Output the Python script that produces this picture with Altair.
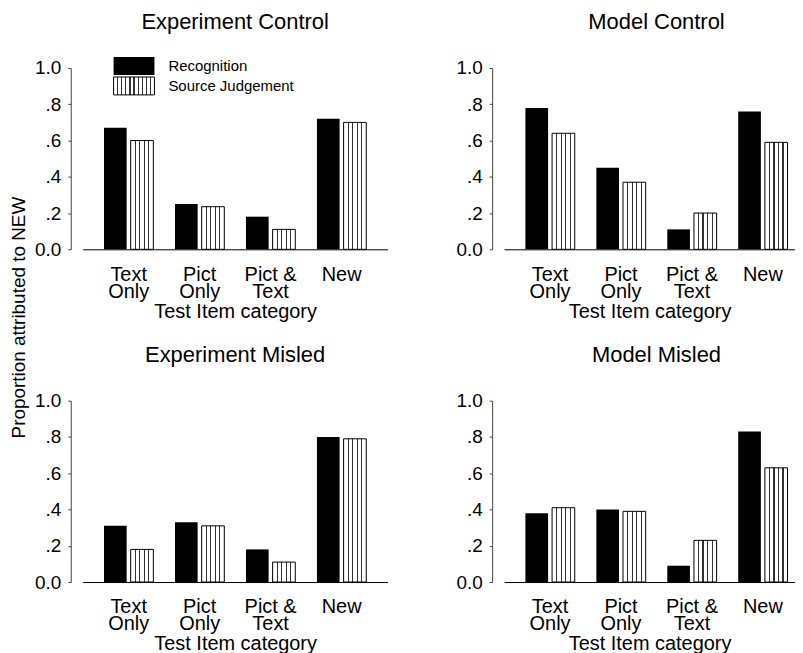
import altair as alt
import pandas as pd

# ---------------- data ----------------
categories = ["Text Only", "Pict Only", "Pict & Text", "New"]
series = ["Recognition", "Source Judgement"]
panel_titles = ["Experiment Control", "Model Control", "Experiment Misled", "Model Misled"]

exp_control_recognition = [0.67, 0.25, 0.18, 0.72]
exp_control_source = [0.60, 0.235, 0.11, 0.70]
model_control_recognition = [0.78, 0.45, 0.11, 0.76]
model_control_source = [0.64, 0.37, 0.20, 0.59]
exp_misled_recognition = [0.31, 0.33, 0.18, 0.80]
exp_misled_source = [0.18, 0.31, 0.11, 0.79]
model_misled_recognition = [0.38, 0.40, 0.09, 0.83]
model_misled_source = [0.41, 0.39, 0.23, 0.63]

y_ticks = [0, 0.2, 0.4, 0.6, 0.8, 1.0]
y_title = "Proportion attributed to NEW"
x_title = "Test Item category"

FONT = "Liberation Sans"
H = 182
W_LEFT, W_RIGHT = 306, 292


def stripe_gradient(n, line_frac, color="#333"):
    stops = [alt.GradientStop(offset=0, color="white")]
    for k in range(1, n):
        c = k / n
        a, b = c - line_frac / 2, c + line_frac / 2
        stops += [
            alt.GradientStop(offset=a, color="white"),
            alt.GradientStop(offset=a, color=color),
            alt.GradientStop(offset=b, color=color),
            alt.GradientStop(offset=b, color="white"),
        ]
    stops.append(alt.GradientStop(offset=1, color="white"))
    return alt.LinearGradient(gradient="linear", stops=stops, x1=0, x2=1, y1=0, y2=0)


bar_stripes = stripe_gradient(5, 0.05)
legend_stripes = stripe_gradient(10, 0.028)


def panel(idx, rec, src):
    df = pd.DataFrame({
        "category": categories * 2,
        "series": [series[0]] * len(categories) + [series[1]] * len(categories),
        "value": rec + src,
    })
    right = idx % 2 == 1
    width = W_RIGHT if right else W_LEFT
    if right:
        xscale = alt.Scale(domain=categories, paddingInner=0.305, paddingOuter=0.203, align=0.74)
    else:
        xscale = alt.Scale(domain=categories, paddingInner=0.305, paddingOuter=0.30)
    x = alt.X(
        "category:N", sort=categories, title=x_title, scale=xscale,
        axis=alt.Axis(
            labelAngle=0, ticks=False, tickSize=0, labelPadding=15,
            labelFontSize=20, labelLineHeight=17, labelColor="black",
            labelExpr="datum.label == 'Pict & Text' ? ['Pict &', 'Text'] : split(datum.label, ' ')",
            labelOverlap=False, domainColor="black", domainWidth=1,
            titleFontSize=20, titleFontWeight="normal", titleColor="black",
            titleY=68, titleBaseline="alphabetic",
        ),
    )
    xo = alt.XOffset("series:N", sort=series,
                     scale=alt.Scale(domain=series, paddingInner=0.15, paddingOuter=0))
    yaxis_kw = dict(
        values=y_ticks, offset=12, tickSize=3, grid=False,
        labelExpr="datum.value == 0 || datum.value == 1 ? format(datum.value, '.1f') : replace(format(datum.value, '.1f'), '0.', '.')",
        domainColor="#444", tickColor="#444", labelFontSize=19, labelPadding=7,
        labelColor="black",
    )
    if idx == 0:
        # shared y title, hung below the top-left panel so it sits between the rows
        yaxis_kw.update(titleX=-52, titleY=250, titleAngle=270, titleAlign="center",
                        titleBaseline="middle", titleFontSize=19,
                        titleFontWeight="normal", titleColor="black")
        y = alt.Y("value:Q", title=y_title, scale=alt.Scale(domain=[0, 1], nice=False),
                  axis=alt.Axis(**yaxis_kw))
    else:
        y = alt.Y("value:Q", title=None, scale=alt.Scale(domain=[0, 1], nice=False),
                  axis=alt.Axis(**yaxis_kw))

    base = alt.Chart(df)
    rec_bars = base.transform_filter(alt.datum.series == series[0]).mark_bar(
        fill="black", strokeWidth=0).encode(x=x, xOffset=xo, y=y)
    src_bars = base.transform_filter(alt.datum.series == series[1]).mark_bar(
        fill=bar_stripes, stroke="black", strokeWidth=1).encode(x=x, xOffset=xo, y=y)

    title_df = pd.DataFrame({"title": [panel_titles[idx]]})
    title_layer = alt.Chart(title_df).mark_text(
        fontSize=22, baseline="alphabetic", align="center", color="black"
    ).encode(x=alt.value(W_LEFT / 2), y=alt.value(-39), text="title:N")

    layers = [rec_bars, src_bars, title_layer]

    if idx == 0:
        leg1 = pd.DataFrame({"label": [series[0]]})
        leg2 = pd.DataFrame({"label": [series[1]]})
        layers += [
            alt.Chart(leg1).mark_rect(fill="black").encode(
                x=alt.value(31), x2=alt.value(72), y=alt.value(-11), y2=alt.value(7)),
            alt.Chart(leg2).mark_rect(fill=legend_stripes, stroke="black", strokeWidth=1).encode(
                x=alt.value(31), x2=alt.value(72), y=alt.value(9), y2=alt.value(27)),
            alt.Chart(leg1).mark_text(align="left", baseline="alphabetic", fontSize=15, color="black").encode(
                x=alt.value(86), y=alt.value(3.5), text="label:N"),
            alt.Chart(leg2).mark_text(align="left", baseline="alphabetic", fontSize=15, color="black").encode(
                x=alt.value(86), y=alt.value(23.5), text="label:N"),
        ]

    return alt.layer(*layers).properties(width=width, height=H)


p1 = panel(0, exp_control_recognition, exp_control_source)
p2 = panel(1, model_control_recognition, model_control_source)
p3 = panel(2, exp_misled_recognition, exp_misled_source)
p4 = panel(3, model_misled_recognition, model_misled_source)

chart = alt.concat(
    p1, p2, p3, p4, columns=2, spacing={"row": 152, "column": 117}, bounds="flush"
).properties(
    padding={"left": 2, "top": 2, "right": 0, "bottom": 0}
).configure(font=FONT).configure_view(stroke=None)

chart.save("out.html", embed_options={"renderer": "svg", "actions": False})
